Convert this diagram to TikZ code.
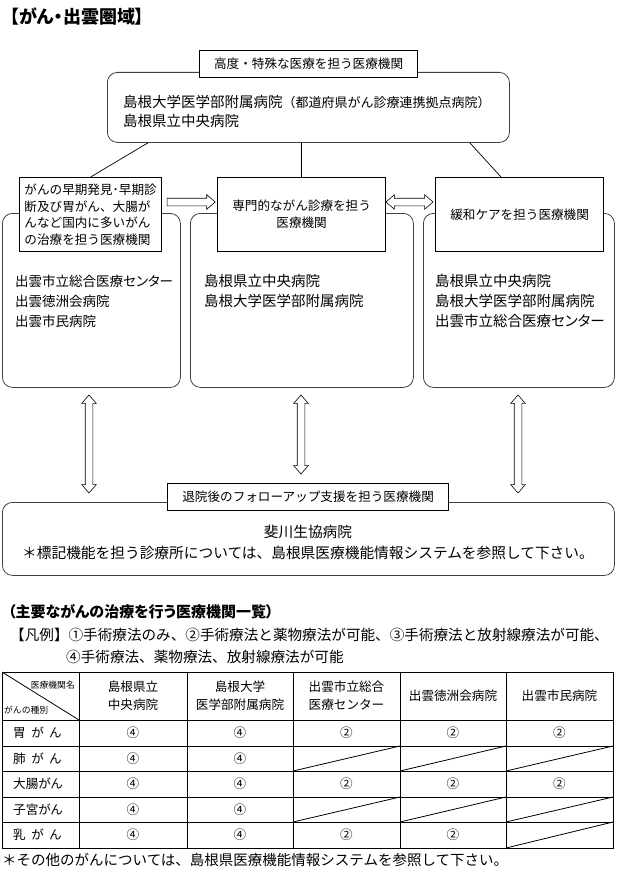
\documentclass[tikz,border=0pt]{standalone}
\usepackage{fontspec}
\setmainfont{Noto Sans CJK JP}
\newfontfamily\jpp{Noto Sans CJK JP}[RawFeature=+palt, WordSpace=2]
\usetikzlibrary{calc,shapes.arrows}

\tikzset{
  caixa/.style={draw=black!75, line width=0.8pt, rounded corners=10pt, anchor=north west, inner sep=0pt},
  rotulo/.style={draw, line width=1.2pt, fill=white, anchor=north west, inner sep=0pt, font=\fontsize{12.6}{16.5}\selectfont},
  lista/.style={anchor=west, inner sep=0pt, align=left, font=\jpp\fontsize{14.5}{20}\selectfont},
  linha/.style={anchor=west, inner sep=0pt, font=\fontsize{14.5}{16}\selectfont},
  liga/.style={line width=0.7pt},
  setadupla/.style={double arrow, draw, line width=0.6pt, inner sep=3.5pt, minimum width=14pt, double arrow head extend=3.5pt, double arrow tip angle=82},
  setasimples/.style={single arrow, draw, line width=0.6pt, inner sep=3.5pt, minimum width=14pt, single arrow head extend=3.5pt, single arrow tip angle=82},
  grade/.style={line width=0.8pt},
  celula/.style={inner sep=0pt, align=center, font=\fontsize{12.6}{18}\selectfont},
}

\begin{document}
\begin{tikzpicture}[x=1pt, y=-1pt]
    \useasboundingbox (0,0) rectangle (616,872);

    % Titulo
    \node[linha, font=\jpp\bfseries\fontsize{18}{21}\selectfont] (titulo) at (10,16) {【がん・出雲圏域】};

    % Caixas arredondadas
    \node[caixa, minimum width=402, minimum height=70] (alto) at (107,72) {};
    \node[caixa, minimum width=178, minimum height=174] (esq) at (2,213) {};
    \node[caixa, minimum width=223, minimum height=174] (meio) at (190,213) {};
    \node[caixa, minimum width=191, minimum height=174] (dir) at (423,213) {};
    \node[caixa, minimum width=612, minimum height=73] (baixo) at (2,502) {};

    % Rotulos
    \node[rotulo, minimum width=218, minimum height=27] (rotalto) at (199,50) {高度・特殊な医療を担う医療機関};
    \node[rotulo, minimum width=142, minimum height=74, align=left] (rotesq) at (19,177) {がんの早期発見･早期診\\断及び胃がん、大腸が\\んなど国内に多いがん\\の治療を担う医療機関};
    \node[rotulo, minimum width=168, minimum height=74, align=center, font=\fontsize{12.6}{17}\selectfont] (rotmeio) at (217,177) {専門的ながん診療を担う\\医療機関};
    \node[rotulo, minimum width=168, minimum height=74] (rotdir) at (435,177) {緩和ケアを担う医療機関};
    \node[rotulo, minimum width=281, minimum height=27] (rotbaixo) at (167,483) {退院後のフォローアップ支援を担う医療機関};

    % Ligacoes
    \draw[liga] ($(alto.south west)+(41,0)$) -- (rotesq.north);
    \draw[liga] (alto.south -| rotmeio.north) -- (rotmeio.north);
    \draw[liga] ($(alto.south east)+(-40,0)$) -- ($(rotdir.north west)+(66,0)$);

    % Textos
    \node[lista, font=\fontsize{14.5}{19}\selectfont] (txtalto) at (123,111.5) {島根大学医学部附属病院{\fontsize{13}{16}\selectfont（都道府県がん診療連携拠点病院）}\\島根県立中央病院};
    \node[lista, font=\jpp\fontsize{13.5}{20}\selectfont] (txtesq) at (15,301) {出雲市立総合医療センター\\出雲徳洲会病院\\出雲市民病院};
    \node[lista] (txtmeio) at (204,291) {島根県立中央病院\\島根大学医学部附属病院};
    \node[lista] (txtdir) at (435,301) {島根県立中央病院\\島根大学医学部附属病院\\出雲市立総合医療センター};
    \node[inner sep=0pt, align=center, font=\fontsize{14.7}{21}\selectfont] (txtbaixo) at (308,542.5) {斐川生協病院\\＊標記機能を担う診療所については、島根県医療機能情報システムを参照して下さい。};

    % Setas
    \node[setasimples, minimum height=48] (seta1) at (189,202) {};
    \node[setadupla, minimum height=47] (seta2) at (409.5,202) {};
    \node[setadupla, rotate=90, minimum height=98] (seta3) at (89,444) {};
    \node[setadupla, rotate=90, minimum height=79] (seta4) at (301,434.5) {};
    \node[setadupla, rotate=90, minimum height=98] (seta5) at (518,444) {};

    % Lista de instituicoes
    \node[linha, font=\jpp\bfseries\fontsize{15}{17}\selectfont] (subtitulo) at (8,612) {（主要ながんの治療を行う医療機関一覧）};
    \node[linha, font=\fontsize{14.6}{16}\selectfont] (legenda1) at (10,635) {【凡例】①手術療法のみ、②手術療法と薬物療法が可能、③手術療法と放射線療法が可能、};
    \node[linha, font=\fontsize{14.6}{16}\selectfont] (legenda2) at (66,657) {④手術療法、薬物療法、放射線療法が可能};

    % Tabela
    \draw[grade] (2,672) rectangle (613,848);
    \foreach \x in {79,187,293,400,506}
        \draw[grade] (\x,672) -- (\x,848);
    \foreach \y in {720,746,771,797,822}
        \draw[grade] (2,\y) -- (613,\y);
    \draw[grade] (2,672) -- (79,720);
    \foreach \xa/\xb/\ya/\yb in {293/400/771/746, 400/506/771/746, 506/613/771/746, 293/400/822/797, 400/506/822/797, 506/613/822/797, 506/613/848/822}
        \draw[grade] (\xa,\ya) -- (\xb,\yb);

    \node[anchor=east, inner sep=0pt, font=\fontsize{8.8}{10}\selectfont] (hinst) at (75,685) {医療機関名};
    \node[anchor=west, inner sep=0pt, font=\fontsize{8.8}{10}\selectfont] (htipo) at (4,710) {がんの種別};
    \node[celula] (h1) at (133,696) {島根県立\\中央病院};
    \node[celula] (h2) at (240,696) {島根大学\\医学部附属病院};
    \node[celula] (h3) at (346.5,696) {出雲市立総合\\医療センター};
    \node[celula] (h4) at (453,696) {出雲徳洲会病院};
    \node[celula] (h5) at (559.5,696) {出雲市民病院};

    \foreach \y/\nome [count=\i] in {733/胃 が ん, 758.5/肺 が ん, 784/大腸がん, 809.5/子宮がん, 835/乳 が ん}
        \node[anchor=west, inner sep=0pt, font=\jpp\fontsize{12.6}{14}\selectfont] (tipo\i) at (13,\y) {\nome};

    \foreach \y [count=\i] in {733,758.5,784,809.5,835} {
        \node[celula] (c\i-1) at (133,\y) {④};
        \node[celula] (c\i-2) at (240,\y) {④};
    }
    \foreach \y/\i in {733/1,784/3,835/5} {
        \node[celula] (c\i-3) at (346.5,\y) {②};
        \node[celula] (c\i-4) at (453,\y) {②};
    }
    \foreach \y/\i in {733/1,784/3}
        \node[celula] (c\i-5) at (559.5,\y) {②};

    % Nota
    \node[linha] (nota) at (2,860) {＊その他のがんについては、島根県医療機能情報システムを参照して下さい。};
\end{tikzpicture}
\end{document}
